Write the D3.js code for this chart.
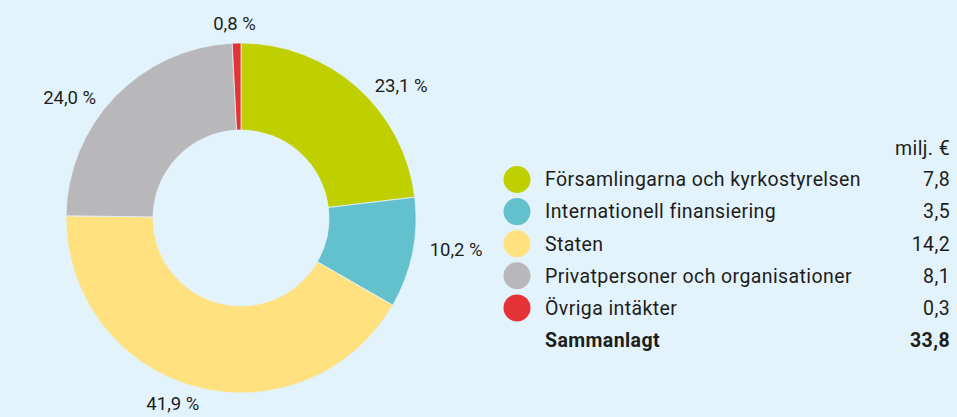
<!DOCTYPE html>
<html>
<head>
<meta charset="utf-8">
<script src="https://cdn.jsdelivr.net/npm/d3@7"></script>
<style>
  body { margin: 0; background: #e3f3fb; }
  text { font-family: Roboto, "Noto Sans", sans-serif; fill: #1d1d1b; }
</style>
</head>
<body>
<div id="chart"></div>
<script>
// data
var categories = ["Församlingarna och kyrkostyrelsen", "Internationell finansiering", "Staten", "Privatpersoner och organisationer", "Övriga intäkter"];
var shares = [23.1, 10.2, 41.9, 24.0, 0.8];
var amounts = ["7,8", "3,5", "14,2", "8,1", "0,3"];
var colors = ["#c0cf00", "#63c1ce", "#ffe17f", "#b8b8ba", "#e43336"];
var unitLabel = "milj. €";
var totalLabel = "Sammanlagt";
var totalAmount = "33,8";

function init() {
    var w = 957;
    var h = 417;

    var cx = 241, cy = 218;
    var outerR = 175, innerR = 88;

    var svg = d3.select("#chart")
        .append("svg")
        .attr("width", w)
        .attr("height", h);

    var data = categories.map(function (c, i) {
        return { name: c, share: shares[i], amount: amounts[i], color: colors[i] };
    });

    var pie = d3.pie()
        .sort(null)
        .value(function (d) { return d.share; });

    var arc = d3.arc()
        .innerRadius(innerR)
        .outerRadius(outerR);

    var g = svg.append("g")
        .attr("transform", "translate(" + cx + "," + cy + ")");

    var arcs = pie(data);

    g.selectAll("path")
        .data(arcs)
        .enter()
        .append("path")
        .attr("d", arc)
        .attr("fill", function (d) { return d.data.color; })
        .attr("stroke", "#e3f3fb")
        .attr("stroke-width", 0.8);

    // percentage labels around the ring, nudged a bit toward the sides
    var rx = 218, ry = 195;
    function labelAngle(d) {
        var a = (d.startAngle + d.endAngle) / 2;
        return a + 0.1 * Math.sin(2 * a);
    }
    g.selectAll("text.pct")
        .data(arcs)
        .enter()
        .append("text")
        .attr("class", "pct")
        .attr("x", function (d) { return rx * Math.sin(labelAngle(d)); })
        .attr("y", function (d) { return -ry * Math.cos(labelAngle(d)); })
        .attr("dy", "0.35em")
        .attr("text-anchor", "middle")
        .style("font-size", "18.5px")
        .text(function (d) {
            return d3.format(".1f")(d.data.share).replace(".", ",") + " %";
        });

    // legend
    var legX = 517, textX = 545, valX = 950;
    var fs = "19.5px", ls = "0.4px";
    var rowY = d3.scalePoint()
        .domain(d3.range(categories.length + 1))
        .range([179.5, 340]);

    svg.append("text")
        .attr("x", valX)
        .attr("y", 148)
        .attr("dy", "0.35em")
        .attr("text-anchor", "end")
        .style("font-size", fs)
        .style("letter-spacing", ls)
        .text(unitLabel);

    var rows = svg.selectAll("g.row")
        .data(data)
        .enter()
        .append("g")
        .attr("class", "row")
        .attr("transform", function (d, i) { return "translate(0," + rowY(i) + ")"; });

    rows.append("circle")
        .attr("cx", legX)
        .attr("cy", 0)
        .attr("r", 13.5)
        .attr("fill", function (d) { return d.color; });

    rows.append("text")
        .attr("x", textX)
        .attr("dy", "0.35em")
        .style("font-size", fs)
        .style("letter-spacing", ls)
        .text(function (d) { return d.name; });

    rows.append("text")
        .attr("x", valX)
        .attr("dy", "0.35em")
        .attr("text-anchor", "end")
        .style("font-size", fs)
        .style("letter-spacing", ls)
        .text(function (d) { return d.amount; });

    var tot = svg.append("g")
        .attr("transform", "translate(0," + rowY(categories.length) + ")");

    tot.append("text")
        .attr("x", textX)
        .attr("dy", "0.35em")
        .style("font-size", fs)
        .style("letter-spacing", ls)
        .style("font-weight", "bold")
        .text(totalLabel);

    tot.append("text")
        .attr("x", valX)
        .attr("dy", "0.35em")
        .attr("text-anchor", "end")
        .style("font-size", fs)
        .style("letter-spacing", ls)
        .style("font-weight", "bold")
        .text(totalAmount);
}

window.onload = init;
</script>
</body>
</html>
